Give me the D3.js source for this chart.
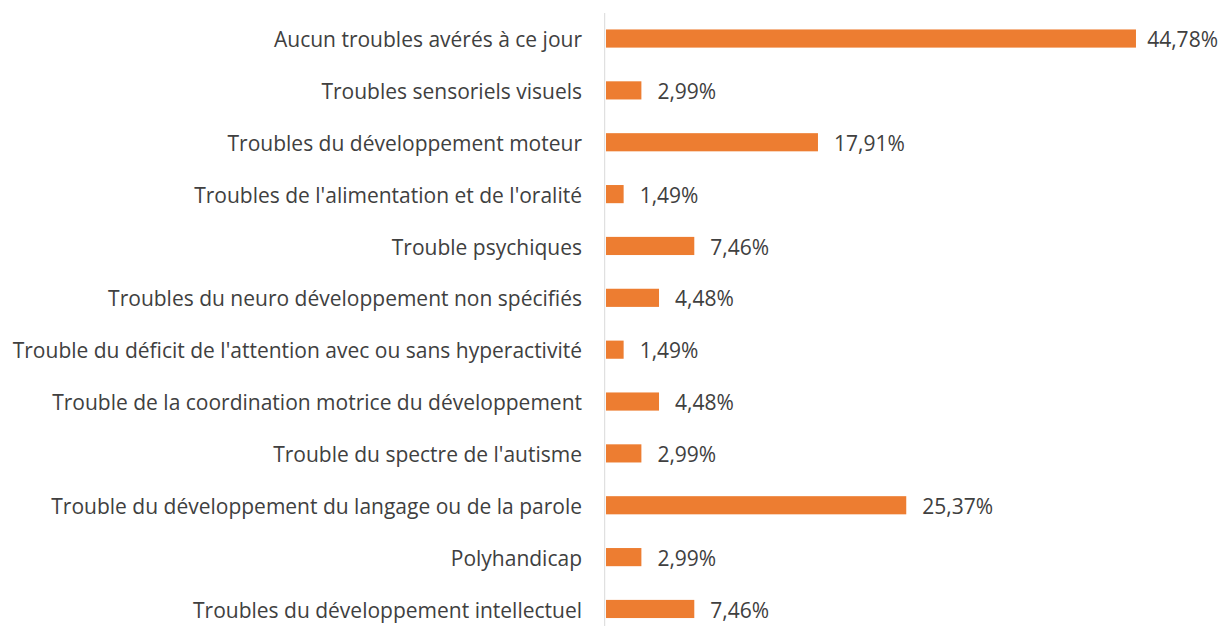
<!DOCTYPE html>
<html>
<head>
<meta charset="utf-8">
<script src="https://cdn.jsdelivr.net/npm/d3@7"></script>
<style>
  body { margin: 0; background: #fff; }
  svg text { font-family: "Open Sans", Lato, sans-serif; fill: #404040; }
</style>
</head>
<body>
<svg id="chart" width="1220" height="626"></svg>
<script>
const categories = [
  "Aucun troubles avérés à ce jour",
  "Troubles sensoriels visuels",
  "Troubles du développement moteur",
  "Troubles de l'alimentation et de l'oralité",
  "Trouble psychiques",
  "Troubles du neuro développement non spécifiés",
  "Trouble du déficit de l'attention avec ou sans hyperactivité",
  "Trouble de la coordination motrice du développement",
  "Trouble du spectre de l'autisme",
  "Trouble du développement du langage ou de la parole",
  "Polyhandicap",
  "Troubles du développement intellectuel"
];
const values = [44.78, 2.99, 17.91, 1.49, 7.46, 4.48, 1.49, 4.48, 2.99, 25.37, 2.99, 7.46];

const data = categories.map((c, i) => ({ cat: c, val: values[i] }));

const svg = d3.select("#chart");

const x = d3.scaleLinear().domain([0, 50]).range([606, 606 + 50 * 11.835]);
const y = d3.scaleBand()
  .domain(categories)
  .range([12.6, 634.9])
  .paddingInner(0.65)
  .paddingOuter(0.325);

// bars
svg.selectAll("rect.bar")
  .data(data)
  .enter()
  .append("rect")
  .attr("class", "bar")
  .attr("x", x(0))
  .attr("y", (d) => y(d.cat))
  .attr("width", (d) => x(d.val) - x(0))
  .attr("height", y.bandwidth())
  .attr("fill", "#ed7d31");

// axis line
svg.append("line")
  .attr("x1", x(0) - 1.3).attr("x2", x(0) - 1.3)
  .attr("y1", 13).attr("y2", 626)
  .attr("stroke", "#d9d9d9")
  .attr("stroke-width", 1);

// category labels
svg.selectAll("text.cat")
  .data(data)
  .enter()
  .append("text")
  .attr("class", "cat")
  .attr("x", x(0) - 24)
  .attr("y", (d) => y(d.cat) + y.bandwidth() / 2)
  .attr("dy", "0.41em")
  .attr("text-anchor", "end")
  .style("font-size", "21px")
  .text((d) => d.cat);

// value labels (pushed left if they would run off the right edge)
const fmt = (v) => v.toFixed(2).replace(".", ",") + "%";
svg.selectAll("text.val")
  .data(data)
  .enter()
  .append("text")
  .attr("class", "val")
  .attr("y", (d) => y(d.cat) + y.bandwidth() / 2)
  .attr("dy", "0.41em")
  .style("font-size", "21px")
  .text((d) => fmt(d.val))
  .attr("x", function (d) {
    const w = this.getComputedTextLength();
    return Math.min(x(d.val) + 16, 1218 - w);
  });
</script>
</body>
</html>
